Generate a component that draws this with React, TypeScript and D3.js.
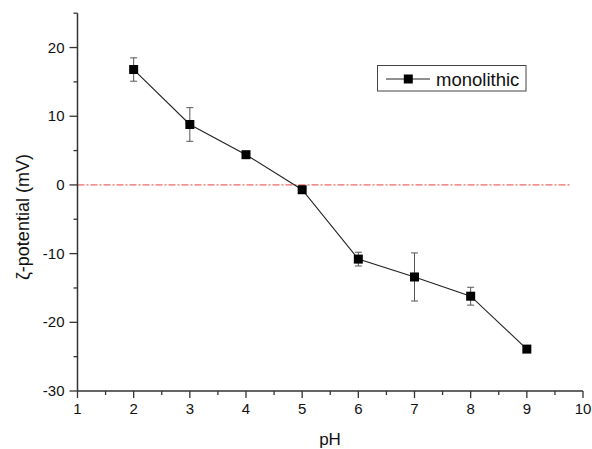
import React from "react";
import * as d3 from "d3";

const phValues = [2, 3, 4, 5, 6, 7, 8, 9];
const zetaValues = [16.8, 8.8, 4.4, -0.7, -10.8, -13.4, -16.2, -23.9];
const zetaErrors = [1.7, 2.45, 0.4, 0.3, 1.0, 3.5, 1.3, 0.3];
const xTicks = [1, 2, 3, 4, 5, 6, 7, 8, 9, 10];
const yTicks = [-30, -20, -10, 0, 10, 20];
const xMinorTicks = [1.5, 2.5, 3.5, 4.5, 5.5, 6.5, 7.5, 8.5, 9.5];
const yMinorTicks = [-25, -15, -5, 5, 15, 25];
const zeroLineExtent = [1, 9.78];
const seriesName = "monolithic";
const xTitle = "pH";
const yTitle = "ζ-potential (mV)";

const W = 592;
const H = 449;
const FONT = "Arial, 'Liberation Sans', Helvetica, sans-serif";

export default function App() {
  const x = d3.scaleLinear().domain([1, 10]).range([77.5, 583]);
  const y = d3.scaleLinear().domain([-30, 25]).range([391, 13.2]);
  const x0 = x(1);
  const y0 = y(-30);
  const line = d3
    .line<number>()
    .x((_, i) => x(phValues[i]))
    .y((d) => y(d));
  const axisColor = "#333";
  const ms = 9;
  return (
    <svg
      width={W}
      height={H}
      style={{ position: "absolute", left: 0, top: 0, background: "#fff" }}
      fontFamily={FONT}
    >
      <rect x={0} y={0} width={W} height={H} fill="#fff" />
      {/* zero line */}
      <line
        x1={x(zeroLineExtent[0])}
        x2={x(zeroLineExtent[1])}
        y1={y(0)}
        y2={y(0)}
        stroke="#e8433f"
        strokeWidth={1}
        strokeDasharray="7,2,2,2"
      />
      {/* error bars */}
      {phValues.map((p, i) => {
        const cx = x(p);
        const top = y(zetaValues[i] + zetaErrors[i]);
        const bot = y(zetaValues[i] - zetaErrors[i]);
        return (
          <g key={"e" + i} stroke="#555" strokeWidth={1}>
            <line x1={cx} x2={cx} y1={top} y2={bot} />
            <line x1={cx - 3.5} x2={cx + 3.5} y1={top} y2={top} />
            <line x1={cx - 3.5} x2={cx + 3.5} y1={bot} y2={bot} />
          </g>
        );
      })}
      <path d={line(zetaValues) || ""} fill="none" stroke="#222" strokeWidth={1.1} />
      {phValues.map((p, i) => (
        <rect
          key={"m" + i}
          x={x(p) - ms / 2}
          y={y(zetaValues[i]) - ms / 2}
          width={ms}
          height={ms}
          fill="#000"
        />
      ))}
      {/* axes */}
      <line x1={x0} x2={x0} y1={y(25)} y2={y0} stroke={axisColor} strokeWidth={1.5} />
      <line x1={x0} x2={x(10)} y1={y0} y2={y0} stroke={axisColor} strokeWidth={1.5} />
      {xTicks.map((t) => (
        <g key={"xt" + t}>
          <line x1={x(t)} x2={x(t)} y1={y0} y2={y0 + 7} stroke={axisColor} strokeWidth={1.3} />
          <text x={x(t)} y={y0 + 23} textAnchor="middle" fontSize={15} fill="#111">
            {t}
          </text>
        </g>
      ))}
      {xMinorTicks.map((t) => (
        <line key={"xm" + t} x1={x(t)} x2={x(t)} y1={y0} y2={y0 + 4} stroke={axisColor} strokeWidth={1.3} />
      ))}
      {yTicks.map((t) => (
        <g key={"yt" + t}>
          <line x1={x0 - 8} x2={x0} y1={y(t)} y2={y(t)} stroke={axisColor} strokeWidth={1.3} />
          <text x={x0 - 13} y={y(t) + 5} textAnchor="end" fontSize={15} fill="#111">
            {t}
          </text>
        </g>
      ))}
      {yMinorTicks.map((t) => (
        <line key={"ym" + t} x1={x0 - 4} x2={x0} y1={y(t)} y2={y(t)} stroke={axisColor} strokeWidth={1.3} />
      ))}
      {/* titles */}
      <text x={330} y={445} textAnchor="middle" fontSize={17} fill="#111">
        {xTitle}
      </text>
      <text
        transform={`translate(29,${(y(25) + y0) / 2 + 15}) rotate(-90)`}
        textAnchor="middle"
        fontSize={18}
        fill="#111"
      >
        {yTitle}
      </text>
      {/* legend */}
      <g>
        <rect x={377.5} y={65.5} width={148.5} height={25.5} fill="#fff" stroke="#444" strokeWidth={1} />
        <line x1={386} x2={430} y1={79} y2={79} stroke="#222" strokeWidth={1.1} />
        <rect x={408.3 - ms / 2} y={79 - ms / 2} width={ms} height={ms} fill="#000" />
        <text x={436} y={85.5} fontSize={18.5} fill="#111">
          {seriesName}
        </text>
      </g>
    </svg>
  );
}
